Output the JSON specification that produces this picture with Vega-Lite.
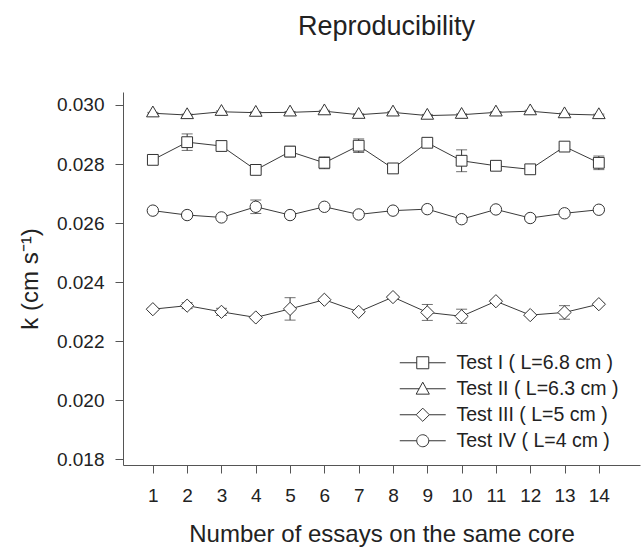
{
  "$schema": "https://vega.github.io/schema/vega-lite/v6.json",
  "autosize": "none",
  "width": 517,
  "height": 373,
  "padding": {"left": 123, "top": 92, "right": 4, "bottom": 89},
  "background": "white",
  "title": {
    "text": "Reproducibility",
    "fontSize": 27,
    "font": "Liberation Sans",
    "fontWeight": "normal",
    "color": "#222222",
    "anchor": "middle",
    "baseline": "alphabetic",
    "offset": 30,
    "dx": 5
  },
  "config": {
    "view": {"stroke": null},
    "font": "Liberation Sans",
    "axis": {
      "grid": false,
      "domainColor": "#555555",
      "tickColor": "#555555",
      "labelColor": "#222222",
      "titleColor": "#222222",
      "labelFont": "Liberation Sans",
      "titleFont": "Liberation Sans",
      "titleFontWeight": "normal",
      "labelFontSize": 19,
      "titleFontSize": 24,
      "tickSize": 8
    },
    "legend": {
      "labelFont": "Liberation Sans",
      "labelFontSize": 19.5,
      "labelColor": "#222222",
      "labelLimit": 300
    }
  },
  "data": {
    "values": [
      {"n": 1, "test": "Test I ( L=6.8 cm )", "k": 0.02814, "err": 0.00004},
      {"n": 2, "test": "Test I ( L=6.8 cm )", "k": 0.02874, "err": 0.00028},
      {"n": 3, "test": "Test I ( L=6.8 cm )", "k": 0.02861, "err": 0.00004},
      {"n": 4, "test": "Test I ( L=6.8 cm )", "k": 0.02780, "err": 0.00003},
      {"n": 5, "test": "Test I ( L=6.8 cm )", "k": 0.02842, "err": 0.00018},
      {"n": 6, "test": "Test I ( L=6.8 cm )", "k": 0.02804, "err": 0.00020},
      {"n": 7, "test": "Test I ( L=6.8 cm )", "k": 0.02862, "err": 0.00023},
      {"n": 8, "test": "Test I ( L=6.8 cm )", "k": 0.02785, "err": 0.00003},
      {"n": 9, "test": "Test I ( L=6.8 cm )", "k": 0.02872, "err": 0.00004},
      {"n": 10, "test": "Test I ( L=6.8 cm )", "k": 0.02811, "err": 0.00037},
      {"n": 11, "test": "Test I ( L=6.8 cm )", "k": 0.02794, "err": 0.00004},
      {"n": 12, "test": "Test I ( L=6.8 cm )", "k": 0.02782, "err": 0.00003},
      {"n": 13, "test": "Test I ( L=6.8 cm )", "k": 0.02859, "err": 0.00004},
      {"n": 14, "test": "Test I ( L=6.8 cm )", "k": 0.02804, "err": 0.00023},
      {"n": 1, "test": "Test II ( L=6.3 cm )", "k": 0.02972, "err": 0.00003},
      {"n": 2, "test": "Test II ( L=6.3 cm )", "k": 0.02966, "err": 0.00003},
      {"n": 3, "test": "Test II ( L=6.3 cm )", "k": 0.02977, "err": 0.00003},
      {"n": 4, "test": "Test II ( L=6.3 cm )", "k": 0.02974, "err": 0.00003},
      {"n": 5, "test": "Test II ( L=6.3 cm )", "k": 0.02975, "err": 0.00003},
      {"n": 6, "test": "Test II ( L=6.3 cm )", "k": 0.02979, "err": 0.00003},
      {"n": 7, "test": "Test II ( L=6.3 cm )", "k": 0.02967, "err": 0.00003},
      {"n": 8, "test": "Test II ( L=6.3 cm )", "k": 0.02975, "err": 0.00003},
      {"n": 9, "test": "Test II ( L=6.3 cm )", "k": 0.02964, "err": 0.00004},
      {"n": 10, "test": "Test II ( L=6.3 cm )", "k": 0.02967, "err": 0.00003},
      {"n": 11, "test": "Test II ( L=6.3 cm )", "k": 0.02975, "err": 0.00003},
      {"n": 12, "test": "Test II ( L=6.3 cm )", "k": 0.02979, "err": 0.00003},
      {"n": 13, "test": "Test II ( L=6.3 cm )", "k": 0.02969, "err": 0.00003},
      {"n": 14, "test": "Test II ( L=6.3 cm )", "k": 0.02966, "err": 0.00003},
      {"n": 1, "test": "Test III ( L=5 cm )", "k": 0.02308, "err": 0.00004},
      {"n": 2, "test": "Test III ( L=5 cm )", "k": 0.02320, "err": 0.00010},
      {"n": 3, "test": "Test III ( L=5 cm )", "k": 0.02299, "err": 0.00012},
      {"n": 4, "test": "Test III ( L=5 cm )", "k": 0.02280, "err": 0.00004},
      {"n": 5, "test": "Test III ( L=5 cm )", "k": 0.02309, "err": 0.00038},
      {"n": 6, "test": "Test III ( L=5 cm )", "k": 0.02340, "err": 0.00004},
      {"n": 7, "test": "Test III ( L=5 cm )", "k": 0.02299, "err": 0.00004},
      {"n": 8, "test": "Test III ( L=5 cm )", "k": 0.02349, "err": 0.00004},
      {"n": 9, "test": "Test III ( L=5 cm )", "k": 0.02297, "err": 0.00027},
      {"n": 10, "test": "Test III ( L=5 cm )", "k": 0.02284, "err": 0.00024},
      {"n": 11, "test": "Test III ( L=5 cm )", "k": 0.02335, "err": 0.00004},
      {"n": 12, "test": "Test III ( L=5 cm )", "k": 0.02288, "err": 0.00004},
      {"n": 13, "test": "Test III ( L=5 cm )", "k": 0.02297, "err": 0.00023},
      {"n": 14, "test": "Test III ( L=5 cm )", "k": 0.02325, "err": 0.00004},
      {"n": 1, "test": "Test IV ( L=4 cm )", "k": 0.02642, "err": 0.00003},
      {"n": 2, "test": "Test IV ( L=4 cm )", "k": 0.02627, "err": 0.00003},
      {"n": 3, "test": "Test IV ( L=4 cm )", "k": 0.02619, "err": 0.00003},
      {"n": 4, "test": "Test IV ( L=4 cm )", "k": 0.02655, "err": 0.00023},
      {"n": 5, "test": "Test IV ( L=4 cm )", "k": 0.02627, "err": 0.00003},
      {"n": 6, "test": "Test IV ( L=4 cm )", "k": 0.02655, "err": 0.00003},
      {"n": 7, "test": "Test IV ( L=4 cm )", "k": 0.02629, "err": 0.00003},
      {"n": 8, "test": "Test IV ( L=4 cm )", "k": 0.02642, "err": 0.00003},
      {"n": 9, "test": "Test IV ( L=4 cm )", "k": 0.02647, "err": 0.00003},
      {"n": 10, "test": "Test IV ( L=4 cm )", "k": 0.02613, "err": 0.00010},
      {"n": 11, "test": "Test IV ( L=4 cm )", "k": 0.02646, "err": 0.00003},
      {"n": 12, "test": "Test IV ( L=4 cm )", "k": 0.02617, "err": 0.00003},
      {"n": 13, "test": "Test IV ( L=4 cm )", "k": 0.02633, "err": 0.00003},
      {"n": 14, "test": "Test IV ( L=4 cm )", "k": 0.02645, "err": 0.00003}
    ]
  },
  "encoding": {
    "x": {
      "field": "n",
      "type": "quantitative",
      "scale": {"domain": [0.13, 15.2], "nice": false, "zero": false},
      "axis": {
        "title": "Number of essays on the same core",
        "values": [1, 2, 3, 4, 5, 6, 7, 8, 9, 10, 11, 12, 13, 14],
        "format": "d",
        "labelPadding": 13,
        "titlePadding": 17,
        "labelFlush": false
      }
    },
    "y": {
      "field": "k",
      "type": "quantitative",
      "scale": {"domain": [0.0178, 0.03044], "nice": false, "zero": false},
      "axis": {
        "title": "k (cm s⁻¹)",
        "values": [0.018, 0.020, 0.022, 0.024, 0.026, 0.028, 0.030],
        "format": ".3f",
        "labelPadding": 11,
        "titlePadding": 14,
        "labelFlush": false
      }
    }
  },
  "layer": [
    {
      "mark": {
        "type": "errorbar",
        "color": "#333333",
        "thickness": 1,
        "ticks": {"size": 11, "color": "#333333", "thickness": 1}
      },
      "encoding": {
        "yError": {"field": "err"},
        "detail": {"field": "test", "type": "nominal"}
      }
    },
    {
      "mark": {"type": "line", "color": "#3a3a3a", "strokeWidth": 1},
      "encoding": {
        "detail": {"field": "test", "type": "nominal"}
      }
    },
    {
      "mark": {
        "type": "point",
        "filled": true,
        "fill": "white",
        "stroke": "#333333",
        "strokeWidth": 1,
        "opacity": 1,
        "size": 144
      },
      "encoding": {
        "shape": {
          "field": "test",
          "type": "nominal",
          "scale": {
            "domain": ["Test I ( L=6.8 cm )", "Test II ( L=6.3 cm )", "Test III ( L=5 cm )", "Test IV ( L=4 cm )"],
            "range": [
              "M-0.9,-0.9H0.9V0.9H-0.9Z",
              "M-1.05,0.6L0,-1.2L1.05,0.6Z",
              "M-1.1,0L0,-1.1L1.1,0L0,1.1Z",
              "M-0.95,0A0.95,0.95,0,1,0,0.95,0A0.95,0.95,0,1,0,-0.95,0Z"
            ]
          },
          "legend": null
        }
      }
    },
    {
      "transform": [{"filter": "datum.n > 100"}],
      "mark": {
        "type": "point",
        "filled": false,
        "color": "#333333",
        "strokeWidth": 1,
        "opacity": 1,
        "size": 144
      },
      "encoding": {
        "shape": {
          "field": "test",
          "type": "nominal",
          "scale": {
            "domain": ["Test I ( L=6.8 cm )", "Test II ( L=6.3 cm )", "Test III ( L=5 cm )", "Test IV ( L=4 cm )"],
            "range": [
              "M-3.83,0H-1M1,0H3.83M-1,-1H1V1H-1Z",
              "M-3.83,0H-0.6M0.6,0H3.83M-1.1,0.9L0,-1.1L1.1,0.9Z",
              "M-3.83,0H-1.1M1.1,0H3.83M-1.1,0L0,-1.1L1.1,0L0,1.1Z",
              "M-3.83,0H-1M1,0H3.83M-1,0A1,1,0,1,0,1,0A1,1,0,1,0,-1,0Z"
            ]
          },
          "legend": {
            "title": null,
            "orient": "none",
            "legendX": 290,
            "legendY": 261,
            "padding": 0,
            "rowPadding": 5,
            "symbolSize": 144,
            "labelOffset": 24,
            "symbolOpacity": 1,
            "symbolStrokeColor": "#333333",
            "symbolStrokeWidth": 1
          }
        }
      }
    }
  ],
  "resolve": {"scale": {"shape": "independent"}}
}
